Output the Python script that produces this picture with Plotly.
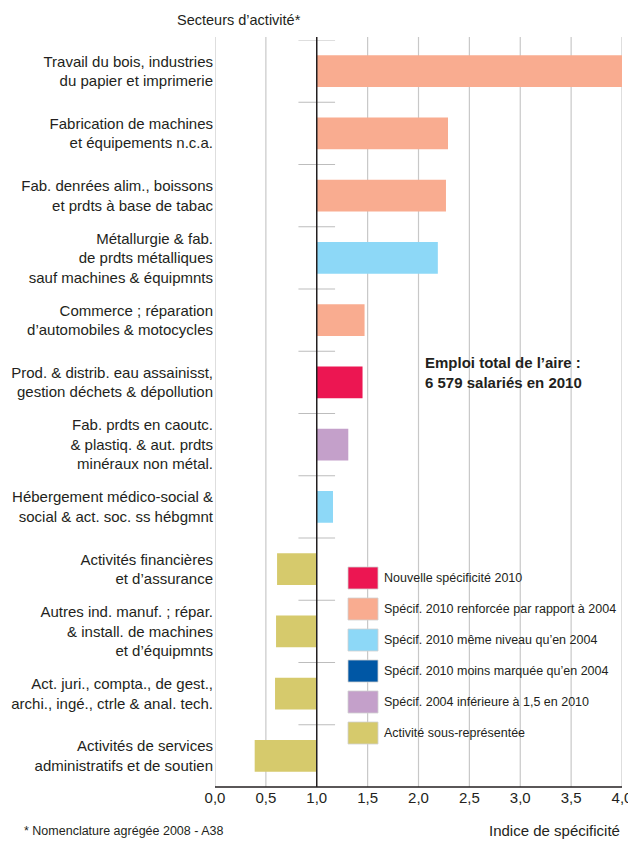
import plotly.graph_objects as go

sectors = [
    "Travail du bois, industries<br>du papier et imprimerie",
    "Fabrication de machines<br>et équipements n.c.a.",
    "Fab. denrées alim., boissons<br>et prdts à base de tabac",
    "Métallurgie & fab.<br>de prdts métalliques<br>sauf machines & équipmnts",
    "Commerce ; réparation<br>d’automobiles & motocycles",
    "Prod. & distrib. eau assainisst,<br>gestion déchets & dépollution",
    "Fab. prdts en caoutc.<br>& plastiq. & aut. prdts<br>minéraux non métal.",
    "Hébergement médico-social &<br>social & act. soc. ss hébgmnt",
    "Activités financières<br>et d’assurance",
    "Autres ind. manuf. ; répar.<br>& install. de machines<br>et d’équipmnts",
    "Act. juri., compta., de gest.,<br>archi., ingé., ctrle & anal. tech.",
    "Activités de services<br>administratifs et de soutien",
]
index_values = [4.0, 2.29, 2.27, 2.19, 1.47, 1.45, 1.31, 1.16, 0.61, 0.60, 0.59, 0.39]
status = [1, 1, 1, 2, 1, 0, 4, 2, 5, 5, 5, 5]

legend_labels = [
    "Nouvelle spécificité 2010",
    "Spécif. 2010 renforcée par rapport à 2004",
    "Spécif. 2010 même niveau qu’en 2004",
    "Spécif. 2010 moins marquée qu’en 2004",
    "Spécif. 2004 inférieure à 1,5 en 2010",
    "Activité sous-représentée",
]
x_ticks = [0, 0.5, 1, 1.5, 2, 2.5, 3, 3.5, 4]

colors = ["#EC1652", "#F9AC90", "#8DD8F7", "#0057A5", "#C4A0CA", "#D6CA6C"]
FONT = "Liberation Sans, Arial, sans-serif"
TXT = "#231F20"

PW, PH = 407.0, 747.0
def px(x):
    return (x - 215) / PW
def py(y):
    return (787 - y) / PH
GTOP = py(37)

fig = go.Figure()
fig.add_trace(go.Bar(
    y=sectors,
    x=[v - 1 for v in index_values],
    base=1,
    orientation="h",
    marker=dict(color=[colors[s] for s in status], line=dict(width=0)),
    width=0.51,
    showlegend=False,
))

shapes = []
for t in x_ticks:
    if t == 1:
        continue
    shapes.append(dict(type="line", xref="x", yref="paper", x0=t, x1=t, y0=0, y1=GTOP,
                       line=dict(color="#C8C8C8", width=1.2), layer="below"))
for i in range(len(sectors)):
    shapes.append(dict(type="line", xref="x", yref="y", x0=0.82, x1=1.18,
                       y0=i - 0.5, y1=i - 0.5, line=dict(color="#BDBDBD", width=1.2), layer="below"))
shapes.append(dict(type="line", xref="x", yref="paper", x0=1, x1=1, y0=0, y1=GTOP,
                   line=dict(color="#231F20", width=1.5)))
shapes.append(dict(type="line", xref="paper", yref="paper", x0=0, x1=1, y0=0, y1=0,
                   line=dict(color="#231F20", width=1.5)))

annotations = []
for k, lab in enumerate(legend_labels):
    top = 567 + k * 31
    shapes.append(dict(type="rect", xref="paper", yref="paper",
                       x0=px(348), x1=px(378), y0=py(top + 22), y1=py(top),
                       fillcolor=colors[k], line=dict(color="#D0D0D0", width=0.8)))
    annotations.append(dict(xref="paper", yref="paper", x=px(382), y=py(top + 11),
                            xanchor="left", yanchor="middle", text=lab, showarrow=False,
                            font=dict(family=FONT, size=12.5, color=TXT)))

annotations += [
    dict(xref="paper", yref="paper", x=px(423), y=py(372), xanchor="left", yanchor="middle",
         text="<b>Emploi total de l’aire :<br>6 579 salariés en 2010</b>", align="left",
         showarrow=False, font=dict(family=FONT, size=15, color=TXT)),
    dict(xref="paper", yref="paper", x=px(239), y=py(20), xanchor="center", yanchor="middle",
         text="Secteurs d’activité*", showarrow=False,
         font=dict(family=FONT, size=14.5, color=TXT)),
    dict(xref="paper", yref="paper", x=px(22), y=py(831), xanchor="left", yanchor="middle",
         text="* Nomenclature agrégée 2008 - A38", showarrow=False,
         font=dict(family=FONT, size=12.5, color=TXT)),
    dict(xref="paper", yref="paper", x=px(622), y=py(830), xanchor="right", yanchor="middle",
         text="Indice de spécificité", showarrow=False,
         font=dict(family=FONT, size=15, color=TXT)),
]

# page has an 8px body offset; compensate so the plot area lands at 215..622 x 40..787
fig.update_layout(
    width=628, height=833,
    margin=dict(l=207, r=14, t=32, b=54, autoexpand=False),
    paper_bgcolor="white", plot_bgcolor="white",
    separators=", ",
    shapes=shapes, annotations=annotations,
    font=dict(family=FONT, color=TXT),
    xaxis=dict(range=[0, 4.0], tickvals=x_ticks, tickformat=".1f", showgrid=False,
               zeroline=False, showline=False, ticks="", automargin=False,
               tickfont=dict(family=FONT, size=15, color=TXT)),
    yaxis=dict(autorange=False, range=[len(sectors) - 0.5, -0.5], showgrid=False,
               zeroline=False, showline=False, ticks="", ticklabelstandoff=1,
               automargin=False,
               tickfont=dict(family=FONT, size=15, color=TXT)),
    bargap=0.49,
)

fig.write_html("out.html")
